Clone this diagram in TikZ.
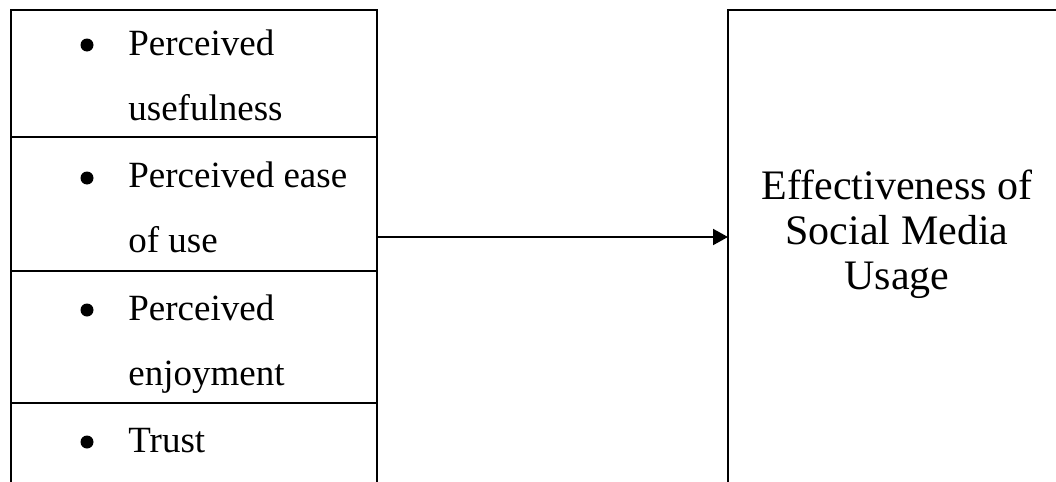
\documentclass[tikz,border=0pt]{standalone}
\usepackage{fontspec}
\setmainfont{Liberation Serif}
\usetikzlibrary{arrows.meta, positioning}

\tikzset{
  cell/.style={draw, line width=1pt, minimum width=183pt, inner sep=0pt, outer sep=0pt, anchor=north west},
  item/.style={anchor=base west, align=left, inner sep=0pt, font=\fontsize{18.5}{32.5}\selectfont},
  dot/.style={circle, fill, inner sep=0pt, minimum size=6.5pt},
  target/.style={draw, line width=1pt, minimum width=169pt, minimum height=260pt, inner sep=0pt, outer sep=0pt, anchor=north west},
  link/.style={line width=1pt, -{Triangle[length=7.5pt, width=8pt]}}
}

\begin{document}
\begin{tikzpicture}[x=0.5pt, y=-0.5pt]
\useasboundingbox (0,0) rectangle (1056,482);
\clip (0,0) rectangle (1056,482);

% left column of factors
\node [cell, minimum height=63.5pt] (useful) at (11,10) {};
\node [cell, minimum height=67pt, below=0pt of useful.south west, anchor=north west] (ease) {};
\node [cell, minimum height=66pt, below=0pt of ease.south west, anchor=north west] (enjoy) {};
\node [cell, minimum height=70pt, below=0pt of enjoy.south west, anchor=north west] (trust) {};

% base anchor = baseline of the last line
\node [dot] (b1) at (87,45) {};
\node [item] (tuseful) at (128,120) {Perceived\\usefulness};
\node [dot] (b2) at (87,178) {};
\node [item] (tease) at (128,252) {Perceived ease\\of use};
\node [dot] (b3) at (87,310) {};
\node [item] (tenjoy) at (128,385) {Perceived\\enjoyment};
\node [dot] (b4) at (87,442) {};
\node [item] (ttrust) at (128,452) {Trust};

% outcome
\node [target] (effect) at (728,10) {};
\node [align=center, inner sep=0pt, font=\fontsize{21}{22.5}\selectfont] (goal) at (897,234) {Effectiveness of\\Social Media\\Usage};

\draw [link] (ease.east |- 0,237) -- (effect.west |- 0,237);

\end{tikzpicture}
\end{document}
